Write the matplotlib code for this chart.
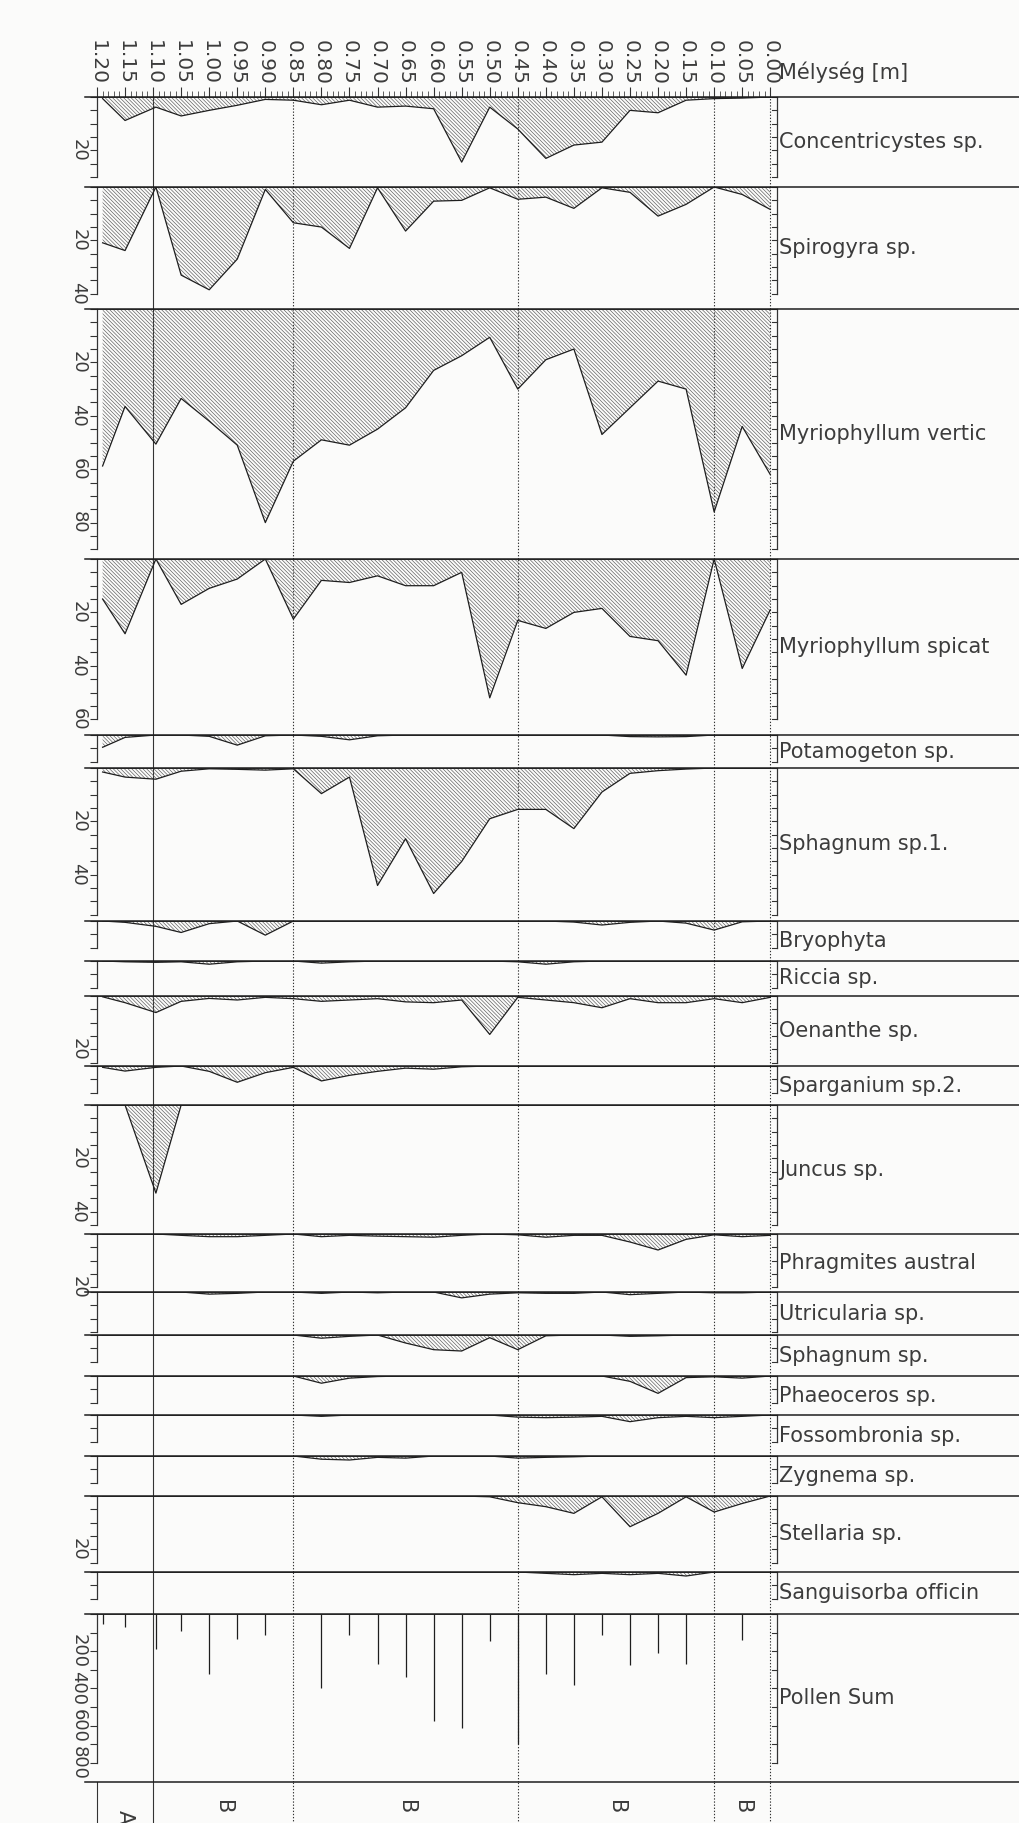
import numpy as np
import matplotlib
matplotlib.use("Agg")
import matplotlib.pyplot as plt
from matplotlib.lines import Line2D
from matplotlib.ticker import FixedLocator

plt.rcParams['font.family'] = ['DejaVu Sans']
plt.rcParams['hatch.linewidth'] = 0.45

# ---------------- data ----------------
depths = [1.19, 1.15, 1.095, 1.05, 1.00, 0.95, 0.90, 0.85, 0.80, 0.75, 0.70, 0.65, 0.60,
          0.55, 0.50, 0.45, 0.40, 0.35, 0.30, 0.25, 0.20, 0.15, 0.10, 0.05, 0.00]
depth_ticks = [1.20, 1.15, 1.10, 1.05, 1.00, 0.95, 0.90, 0.85, 0.80, 0.75, 0.70, 0.65, 0.60,
               0.55, 0.50, 0.45, 0.40, 0.35, 0.30, 0.25, 0.20, 0.15, 0.10, 0.05, 0.00]
depth_tick_labels = ["1.20", "1.15", "1.10", "1.05", "1.00", "0.95", "0.90", "0.85", "0.80",
                     "0.75", "0.70", "0.65", "0.60", "0.55", "0.50", "0.45", "0.40", "0.35",
                     "0.30", "0.25", "0.20", "0.15", "0.10", "0.05", "0.00"]
depth_title = "Mélység [m]"
zone_bounds = [1.20, 1.10, 0.85, 0.45, 0.10, 0.00]
zone_names = ["A", "B", "B", "B", "B"]

# taxon names as visible in the (right-cropped) original
taxa = ["Concentricystes sp.", "Spirogyra sp.", "Myriophyllum vertic",
        "Myriophyllum spicat", "Potamogeton sp.", "Sphagnum sp.1.", "Bryophyta",
        "Riccia sp.", "Oenanthe sp.", "Sparganium sp.2.", "Juncus sp.",
        "Phragmites austral", "Utricularia sp.", "Sphagnum sp.", "Phaeoceros sp.",
        "Fossombronia sp.", "Zygnema sp.", "Stellaria sp.", "Sanguisorba officin",
        "Pollen Sum"]

concentricystes = [0.6, 8.8, 3.8, 7.1, 5.0, 3.1, 0.9, 1.2, 2.9, 1.2, 3.8, 3.4, 4.4,
                   24.4, 3.8, 12.0, 23.0, 18.0, 16.9, 5.0, 5.9, 1.2, 0.6, 0.4, 0.0]
spirogyra = [20.9, 23.8, 0.0, 33.0, 38.5, 27.0, 0.9, 13.4, 15.0, 23.0, 0.3, 16.5, 5.3,
             5.0, 0.3, 4.6, 3.8, 8.0, 0.3, 2.0, 10.9, 6.5, 0.0, 2.8, 8.4]
myr_verticillatum = [58.8, 36.5, 50.6, 33.5, 42.0, 51.0, 80.0, 57.0, 49.0, 51.0, 45.0, 37.0,
                     23.0, 17.5, 10.6, 30.0, 19.0, 15.0, 47.0, 37.0, 27.0, 30.0, 76.0, 44.0, 62.0]
myr_spicatum = [15.0, 28.0, 0.0, 17.0, 11.0, 7.5, 0.0, 22.5, 8.0, 8.8, 6.3, 10.0, 10.0,
                5.0, 52.0, 23.0, 26.0, 20.0, 18.5, 29.0, 30.6, 43.5, 0.0, 41.0, 19.0]
potamogeton = [4.6, 0.9, 0.0, 0.0, 0.5, 3.8, 0.3, 0.0, 0.5, 1.8, 0.3, 0.0, 0.0,
               0.0, 0.0, 0.0, 0.0, 0.0, 0.0, 0.6, 0.7, 0.6, 0.0, 0.0, 0.0]
sphagnum_1 = [1.5, 3.4, 4.2, 1.2, 0.3, 0.5, 0.8, 0.3, 9.6, 3.4, 44.0, 26.5, 47.0,
              35.0, 19.0, 15.5, 15.5, 22.7, 9.0, 2.0, 1.0, 0.4, 0.0, 0.0, 0.0]
bryophyta = [0.0, 0.5, 2.0, 4.3, 1.0, 0.0, 5.3, 0.0, 0.0, 0.0, 0.0, 0.0, 0.0,
             0.0, 0.0, 0.0, 0.0, 0.4, 1.5, 0.5, 0.0, 0.8, 3.4, 0.3, 0.0]
riccia = [0.0, 0.3, 0.5, 0.3, 1.2, 0.3, 0.0, 0.0, 0.8, 0.3, 0.0, 0.0, 0.0,
          0.0, 0.0, 0.3, 1.2, 0.3, 0.0, 0.0, 0.0, 0.0, 0.0, 0.0, 0.0]
oenanthe = [0.3, 2.5, 6.2, 2.0, 0.9, 1.5, 0.5, 1.0, 2.0, 1.5, 1.0, 2.2, 2.5,
            1.5, 14.4, 0.5, 1.5, 2.5, 4.4, 1.0, 2.5, 2.5, 1.0, 2.5, 0.5]
sparganium_2 = [0.5, 1.9, 0.5, 0.0, 2.0, 6.1, 2.5, 0.5, 5.6, 3.5, 2.0, 0.8, 1.2,
                0.3, 0.0, 0.0, 0.0, 0.0, 0.0, 0.0, 0.0, 0.0, 0.0, 0.0, 0.0]
juncus = [0.0, 0.0, 33.0, 0.0, 0.0, 0.0, 0.0, 0.0, 0.0, 0.0, 0.0, 0.0, 0.0,
          0.0, 0.0, 0.0, 0.0, 0.0, 0.0, 0.0, 0.0, 0.0, 0.0, 0.0, 0.0]
phragmites = [0.0, 0.0, 0.0, 0.5, 1.0, 1.0, 0.5, 0.0, 1.0, 0.5, 0.8, 1.0, 1.2,
              0.5, 0.0, 0.3, 1.2, 0.5, 0.5, 3.0, 6.0, 2.0, 0.3, 1.0, 0.5]
utricularia = [0.0, 0.0, 0.0, 0.0, 0.8, 0.5, 0.0, 0.0, 0.5, 0.0, 0.3, 0.0, 0.0,
               2.2, 0.8, 0.3, 0.5, 0.5, 0.0, 1.0, 0.5, 0.0, 0.3, 0.3, 0.0]
sphagnum = [0.0, 0.0, 0.0, 0.0, 0.0, 0.0, 0.0, 0.0, 1.2, 0.5, 0.0, 3.0, 5.5,
            6.0, 1.0, 5.5, 0.3, 0.0, 0.0, 0.5, 0.3, 0.0, 0.0, 0.0, 0.0]
phaeoceros = [0.0, 0.0, 0.0, 0.0, 0.0, 0.0, 0.0, 0.0, 2.7, 0.8, 0.2, 0.0, 0.0,
              0.0, 0.0, 0.0, 0.0, 0.0, 0.0, 2.0, 6.5, 0.6, 0.3, 0.8, 0.0]
fossombronia = [0.0, 0.0, 0.0, 0.0, 0.0, 0.0, 0.0, 0.0, 0.5, 0.0, 0.0, 0.0, 0.0,
                0.0, 0.0, 0.8, 1.0, 0.8, 0.5, 2.5, 1.0, 0.5, 1.0, 0.5, 0.0]
zygnema = [0.0, 0.0, 0.0, 0.0, 0.0, 0.0, 0.0, 0.0, 1.2, 1.5, 0.5, 0.8, 0.0,
           0.0, 0.0, 0.8, 0.5, 0.3, 0.0, 0.0, 0.0, 0.0, 0.0, 0.0, 0.0]
stellaria = [0.0, 0.0, 0.0, 0.0, 0.0, 0.0, 0.0, 0.0, 0.0, 0.0, 0.0, 0.0, 0.0,
             0.0, 0.3, 2.5, 4.0, 6.5, 0.3, 11.5, 6.5, 0.3, 6.0, 2.8, 0.0]
sanguisorba = [0.0, 0.0, 0.0, 0.0, 0.0, 0.0, 0.0, 0.0, 0.0, 0.0, 0.0, 0.0, 0.0,
               0.0, 0.0, 0.0, 0.5, 1.0, 0.5, 1.0, 0.5, 1.5, 0.0, 0.0, 0.0]
pollen_sum = [53, 70, 187, 93, 320, 133, 111, 0, 400, 113, 267, 340, 573,
              613, 147, 700, 320, 380, 113, 273, 207, 267, 0, 140, 0]

series = [concentricystes, spirogyra, myr_verticillatum, myr_spicatum, potamogeton,
          sphagnum_1, bryophyta, riccia, oenanthe, sparganium_2, juncus, phragmites,
          utricularia, sphagnum, phaeoceros, fossombronia, zygnema, stellaria,
          sanguisorba, pollen_sum]

# ---------------- layout (pixels) ----------------
W, H, DPI = 1020, 1823, 100
XL, XR = 97, 777
XLIM = (1.20, -0.012)
LINE_X0 = 85
LABEL_X = 779
panel_edges = [97, 187, 309, 559, 735, 768, 921, 961, 996, 1066, 1105, 1234, 1292,
               1335, 1376, 1415, 1456, 1496, 1572, 1614, 1782]
STRIP_BOTTOM = 1850
KPX = 2.67          # pixels per percent
KPX_POLLEN = 0.186  # pixels per pollen grain
INK = '#1e1e1e'
TXT = '#3c3c3c'
HATCH_C = '#585858'


def rect(top, bottom):
    return [XL / W, 1 - bottom / H, (XR - XL) / W, (bottom - top) / H]


def zone_lines(ax):
    ax.axvline(zone_bounds[1], color='#333333', lw=0.8, zorder=1)
    for d in zone_bounds[2:]:
        ax.axvline(d, color='#333333', lw=0.8, ls=(0, (1.2, 1.6)), zorder=1)


fig = plt.figure(figsize=(W / DPI, H / DPI), dpi=DPI)
fig.patch.set_facecolor('#fbfbfa')

for i, (name, vals) in enumerate(zip(taxa, series)):
    top, bot = panel_edges[i], panel_edges[i + 1]
    ax = fig.add_axes(rect(top, bot))
    ax.set_facecolor('none')
    pollen = name == "Pollen Sum"
    k = KPX_POLLEN if pollen else KPX
    ymax = (bot - top) / k
    ax.set_xlim(*XLIM)
    ax.set_ylim(ymax, 0)
    step, lstep = (100, 200) if pollen else (5, 20)
    if pollen:
        bend = 800
    else:
        bend = max(step, round(((bot - top - 8) / k) / step) * step)
        if bend > ymax - 1:
            bend -= step
    yt = list(np.arange(0, bend + 1e-6, step))

    zone_lines(ax)
    if pollen:
        ax.vlines(depths, 0, vals, color=INK, lw=0.9, zorder=3)
    else:
        ax.fill_between(depths, 0, vals, facecolor='none', edgecolor=HATCH_C,
                        hatch='\\' * 9, linewidth=0, zorder=2)
        ax.plot(depths, vals, color=INK, lw=0.9, zorder=3)
    ax.axhline(0, color=INK, lw=1.2, zorder=4)

    for s in ['top', 'bottom', 'right']:
        ax.spines[s].set_visible(False)
    ax.spines['left'].set_bounds(0, bend)
    ax.spines['left'].set_linewidth(0.9)
    ax.spines['left'].set_color('#333333')
    ax.set_yticks(yt)
    ax.set_yticklabels([str(int(v)) if (v > 0 and v % lstep == 0) else '' for v in yt],
                       rotation=-90, fontsize=13, color=TXT, va='center')
    ax.tick_params(axis='y', which='major', direction='out', length=5, width=0.8,
                   pad=2, colors='#333333', labelcolor=TXT)

    # right bracket
    tr = ax.get_yaxis_transform()
    ax.plot([1, 1], [0, bend], transform=tr, color='#333333', lw=0.9, clip_on=False)
    tl = 5.0 / (XR - XL)
    for v in yt:
        ax.plot([1 - tl, 1], [v, v], transform=tr, color='#333333', lw=0.8, clip_on=False)

    if i == 0:
        ax.xaxis.tick_top()
        ax.set_xticks(depth_ticks)
        ax.set_xticklabels(depth_tick_labels, rotation=-90, fontsize=14.5, color=TXT)
        ax.xaxis.set_minor_locator(FixedLocator(np.arange(0, 121) / 100))
        ax.tick_params(axis='x', which='major', direction='out', length=7, width=0.8,
                       pad=2, colors='#333333', labelcolor=TXT)
        ax.tick_params(axis='x', which='minor', direction='out', length=4, width=0.6,
                       colors='#444444')
    else:
        ax.tick_params(axis='x', which='both', bottom=False, top=False,
                       labelbottom=False, labeltop=False)

    fig.text(LABEL_X / W, 1 - (top + bot) / 2 / H, name, fontsize=15, color=TXT,
             ha='left', va='center')

# horizontal separator lines running to the right edge
for y in panel_edges:
    fig.add_artist(Line2D([LINE_X0 / W, 1.0], [1 - y / H, 1 - y / H],
                          transform=fig.transFigure, color=INK, lw=1.1))

fig.text(LABEL_X / W, 1 - 72 / H, depth_title, fontsize=15, color=TXT,
         ha='left', va='center')

# bottom zone strip
axs = fig.add_axes(rect(panel_edges[-1], STRIP_BOTTOM))
axs.set_xlim(*XLIM)
axs.set_ylim(STRIP_BOTTOM - panel_edges[-1], 0)
axs.set_facecolor('none')
zone_lines(axs)
for s in ['top', 'bottom', 'right']:
    axs.spines[s].set_visible(False)
axs.spines['left'].set_color('#333333')
axs.set_xticks([])
axs.set_yticks([])
for j, zname in enumerate(zone_names):
    mid = (zone_bounds[j] + zone_bounds[j + 1]) / 2
    axs.text(mid, 18 if zname == "B" else 28, zname, rotation=-90, ha='center', va='top',
             fontsize=15, color=TXT)

fig.savefig("out.png", dpi=DPI, facecolor=fig.get_facecolor())
